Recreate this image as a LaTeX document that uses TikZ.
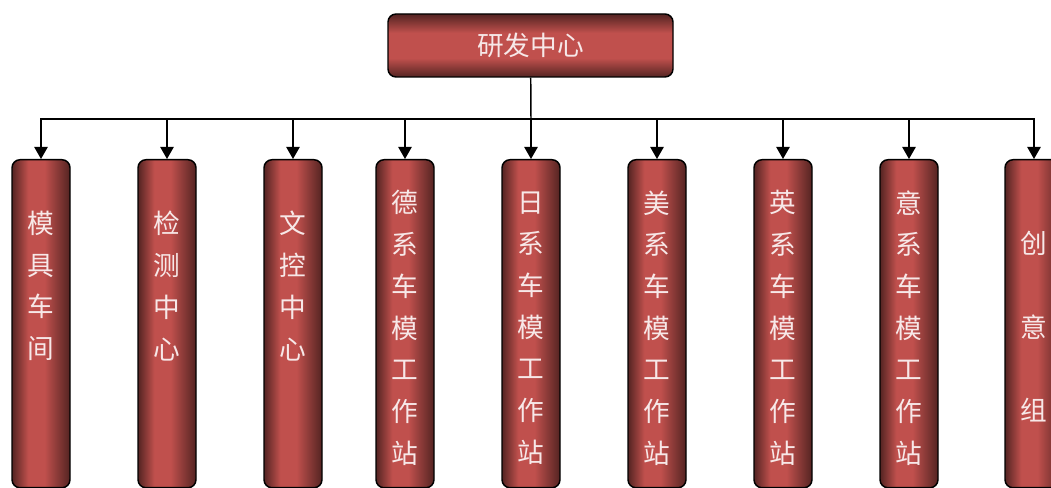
\documentclass[tikz,border=0pt]{standalone}
\usepackage{fontspec}
\setmainfont{Noto Sans CJK SC}
\usepackage{tikz}
\usetikzlibrary{positioning}
\usetikzlibrary{arrows.meta}
\definecolor{rdark}{HTML}{542422}
\definecolor{rlight}{HTML}{C0504D}
\definecolor{ctext}{HTML}{F7E8E8}
\pgfdeclarehorizontalshading{colshade}{100bp}{color(0bp)=(rdark); color(25bp)=(rdark); color(39bp)=(rlight); color(53bp)=(rlight); color(75bp)=(rdark); color(100bp)=(rdark)}
\pgfdeclareverticalshading{topshade}{100bp}{color(0bp)=(rdark); color(25bp)=(rdark); color(40bp)=(rlight); color(60bp)=(rlight); color(75bp)=(rdark); color(100bp)=(rdark)}
\tikzset{
  topbox/.style={draw, line width=1.1pt, rounded corners=6pt, minimum width=213.75pt, minimum height=47.25pt,
    shading=topshade, text=ctext, font=\fontsize{20}{24}\selectfont},
  colbox/.style={draw, line width=1.1pt, rounded corners=6pt, minimum width=43.5pt, minimum height=246pt,
    anchor=north, shading=colshade},
  vtxt/.style={text=ctext, align=center, inner sep=0pt, font=\fontsize{20}{31.3}\selectfont},
  arr/.style={line width=1.1pt, -{Triangle[width=10pt,length=9pt]}}
}
\begin{document}
\begin{tikzpicture}[x=0.75pt, y=-0.75pt]
\useasboundingbox (0,0) rectangle (1051,488);
\clip (0,0) rectangle (1051,488);
%top
\node[topbox] (rd) at (530.5,45.5) {研发中心};
\coordinate (j) at (531,119);
%columns
\node[colbox] (b1) at (41,159) {};
\node[colbox] (b2) at (167,159) {};
\node[colbox] (b3) at (293,159) {};
\node[colbox] (b4) at (405,159) {};
\node[colbox] (b5) at (531,159) {};
\node[colbox] (b6) at (657,159) {};
\node[colbox] (b7) at (783,159) {};
\node[colbox] (b8) at (909,159) {};
\node[colbox] (b9) at (1034,159) {};
%texts
\node[vtxt] (t1) at (41,286) {模\\具\\车\\间};
\node[vtxt] (t2) at (167,286) {检\\测\\中\\心};
\node[vtxt] (t3) at (293,286) {文\\控\\中\\心};
\node[vtxt] (t4) at (405,328) {德\\系\\车\\模\\工\\作\\站};
\node[vtxt] (t5) at (531,328) {日\\系\\车\\模\\工\\作\\站};
\node[vtxt] (t6) at (657,328) {美\\系\\车\\模\\工\\作\\站};
\node[vtxt] (t7) at (783,328) {英\\系\\车\\模\\工\\作\\站};
\node[vtxt] (t8) at (909,328) {意\\系\\车\\模\\工\\作\\站};
\node[vtxt] (t9) at (1034,327) {创\\[31.3pt]意\\[31.3pt]组};
%connectors
\draw[line width=1.1pt] (rd) -- (j);
\draw[arr] (j) -| (b1);
\draw[arr] (j) -| (b2);
\draw[arr] (j) -| (b3);
\draw[arr] (j) -| (b4);
\draw[arr] (j) -- (b5);
\draw[arr] (j) -| (b6);
\draw[arr] (j) -| (b7);
\draw[arr] (j) -| (b8);
\draw[arr] (j) -| (b9);
\end{tikzpicture}
\end{document}
